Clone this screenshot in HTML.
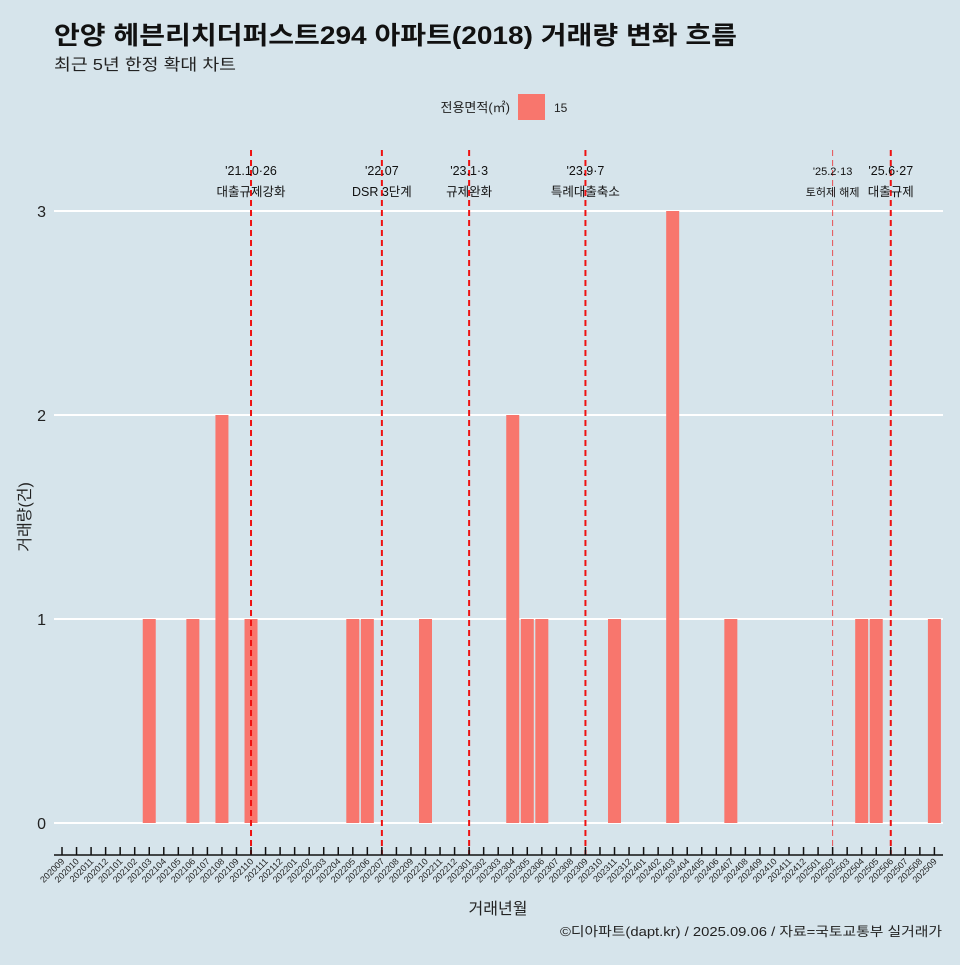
<!DOCTYPE html><html><head><meta charset="utf-8"><style>
body{margin:0;background:#d6e4eb;font-family:"Liberation Sans","Noto Sans CJK KR",sans-serif}
svg text{font-family:"Liberation Sans","Noto Sans CJK KR",sans-serif}
</style></head><body>
<svg id="c" width="960" height="960" xmlns="http://www.w3.org/2000/svg">
<rect width="960" height="960" fill="#d6e4eb"/>
<text x="54" y="44" font-size="25" font-weight="bold" fill="#111" textLength="683" lengthAdjust="spacingAndGlyphs">안양 헤븐리치더퍼스트294 아파트(2018) 거래량 변화 흐름</text>
<text x="54" y="70" font-size="16" fill="#222" textLength="182" lengthAdjust="spacingAndGlyphs">최근 5년 한정 확대 차트</text>
<text x="510" y="112" font-size="13" text-anchor="end" fill="#222">전용면적(㎡)</text>
<rect x="518" y="94" width="27" height="26" fill="#f8766d"/>
<text x="554" y="112" font-size="12" fill="#222">15</text>
<text x="30" y="517" font-size="16" text-anchor="middle" transform="rotate(-90 30 517)" fill="#222">거래량(건)</text>
<text x="498" y="914" font-size="16" text-anchor="middle" fill="#222">거래년월</text>
<text x="560" y="936" font-size="13" fill="#222" textLength="382" lengthAdjust="spacingAndGlyphs">©디아파트(dapt.kr) / 2025.09.06 / 자료=국토교통부 실거래가</text>
<g id="grid"></g><g id="bars"></g><g id="events"></g><g id="xaxis"></g>
</svg>
<script>
const categories=[];for(let y=2020,m=9;y<2025||(y===2025&&m<=9);){categories.push(y+String(m).padStart(2,'0'));m++;if(m>12){m=1;y++;}}
const barMonths=["202103","202106","202108","202110","202205","202206","202210","202304","202305","202306","202311","202403","202407","202504","202505","202509"];
const barValues=[1,1,2,1,1,1,1,2,1,1,1,3,1,1,1,1];
const yTicks=[0,1,2,3];
const eventMonths=["202110","202207","202301","202309","202502","202506"];
const eventDates=["'21.10·26","'22.07","'23.1·3","'23.9·7","'25.2·13","'25.6·27"];
const eventNames=["대출규제강화","DSR 3단계","규제완화","특례대출축소","토허제 해제","대출규제"];
const NS="http://www.w3.org/2000/svg";
const x=c=>62+categories.indexOf(c)*14.54;
const y=v=>823-v*204;
function mk(t,a,p){const e=document.createElementNS(NS,t);for(const k in a)e.setAttribute(k,a[k]);p.appendChild(e);return e;}
const grid=document.getElementById('grid'),bars=document.getElementById('bars'),ev=document.getElementById('events'),xa=document.getElementById('xaxis');
yTicks.forEach(v=>{
 const l=mk('line',{x1:54,x2:943,y1:y(v),y2:y(v),stroke:'#fff','stroke-width':2},grid);
 
 
 const t=mk('text',{x:46,y:y(v)+6,'font-size':16,'text-anchor':'end',fill:'#222'},grid);t.textContent=v;
 
 
});
barMonths.forEach((m,i)=>{
 const r=mk('rect',{x:x(m)-6.5,y:y(barValues[i]),width:13,height:y(0)-y(barValues[i]),fill:'#f8766d'},bars);
 
 
});
eventMonths.forEach((m,i)=>{
 const thin=m==="202502";
 const l=mk('line',{x1:x(m),x2:x(m),y1:150,y2:855,stroke:'#ee1111','stroke-width':thin?1:2,'stroke-dasharray':'6,4',opacity:thin?0.7:1},ev);
 
 
 const fs=thin?11:12.5;
 const t1=mk('text',{x:x(m),y:175,'font-size':fs,'text-anchor':'middle',fill:'#111'},ev);t1.textContent=eventDates[i];
 
 
 const t2=mk('text',{x:x(m),y:196,'font-size':fs,'text-anchor':'middle',fill:'#111'},ev);t2.textContent=eventNames[i];
 
 
});
const ax=mk('line',{x1:54,x2:943,y1:855,y2:855,stroke:'#111','stroke-width':1.5},xa);


categories.forEach(c=>{
 mk('line',{x1:x(c),x2:x(c),y1:847,y2:855,stroke:'#111','stroke-width':1.5},xa);
 const t=mk('text',{x:x(c)+3,y:862,'font-size':9,'text-anchor':'end',fill:'#222',transform:`rotate(-45 ${x(c)+3} 862)`},xa);t.textContent=c;
 
 
});
</script></body></html>
